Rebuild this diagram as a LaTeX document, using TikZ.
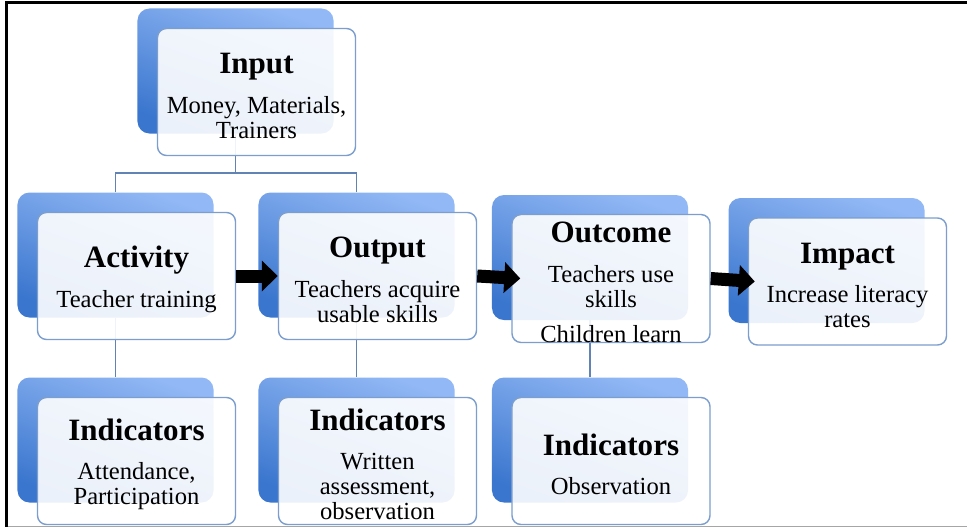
\documentclass[tikz,border=0pt]{standalone}
\usepackage{fontspec}
\setmainfont{Liberation Serif}
\usetikzlibrary{arrows.meta,backgrounds}

\definecolor{backtop}{RGB}{146,184,245}
\definecolor{backbot}{RGB}{58,118,206}
\definecolor{boxline}{RGB}{124,158,206}
\definecolor{linkc}{RGB}{96,130,180}

\newcommand{\hd}[1]{{\fontsize{26.5}{28}\selectfont\bfseries\rule{0pt}{24pt}#1}\\[12.75pt]}

\begin{document}
\begin{tikzpicture}[x=0.03cm,y=-0.03cm,
  back/.style={rounded corners=0.36cm,minimum width=5.88cm,minimum height=3.75cm,inner sep=0pt,
    top color=backtop,bottom color=backbot,shading angle=-20},
  front/.style={rounded corners=0.27cm,minimum width=5.94cm,minimum height=3.81cm,inner sep=0pt,
    draw=boxline,line width=1.2pt,fill=white,fill opacity=0.9,text opacity=1,align=center,
    font=\fontsize{21}{21.25}\selectfont},
  link/.style={draw=linkc,line width=1.3pt},
  blockarrow/.style={line width=0.39cm,-{Triangle[length=0.48cm,width=0.9cm]}}]

\useasboundingbox (0,0) rectangle (967,527);

% frame
\fill[black] (5,1) rectangle (967,3.5);
\fill[black] (5,1) rectangle (7.5,527);
\draw[black!35,line width=0.03cm] (7.5,526) -- (967,526);

\foreach \n/\x/\y in {inb/235.5/71,actb/115.5/255,outb/356.5/255,outcb/590/257.5,impb/826.5/260.5,
  ind1b/115.5/440,ind2b/356.5/440,ind3b/590/440}
	\node[back] (\n) at (\x,\y) {};

\begin{scope}[on background layer]
\coordinate (split) at (inb |- 0,173);
\draw[link] (inb) -- (split) -| (actb);
\draw[link] (split) -| (outb);
\draw[link] (actb) -- (ind1b);
\draw[link] (outb) -- (ind2b);
\draw[link] (outcb) -- (ind3b);
\end{scope}

\node[front] (in) at ([shift={(21,21)}]inb) {\hd{Input}Money, Materials,\\Trainers};
\node[front] (act) at ([shift={(21,21)}]actb) {\hd{Activity}Teacher training};
\node[front] (out) at ([shift={(21,21)}]outb) {\hd{Output}Teachers acquire\\usable skills};
\node[front] (outc) at ([shift={(21,21)}]outcb) {\hd{Outcome}Teachers use\\skills\\[8.5pt]Children learn};
\node[front] (imp) at ([shift={(21,21)}]impb) {\hd{Impact}Increase literacy\\rates};

\node[front] (ind1) at ([shift={(21,21)}]ind1b) {\hd{Indicators}Attendance,\\Participation};
\node[front] (ind2) at ([shift={(21,21)}]ind2b) {\hd{Indicators}Written\\assessment,\\observation};
\node[front] (ind3) at ([shift={(21,21)}]ind3b) {\hd{Indicators}Observation};

\draw[blockarrow] (act.east) -- (out.west);
\draw[blockarrow] (out.east) -- ([xshift=0.27cm]outc.west);
\draw[blockarrow] (outc.east) -- ([xshift=0.21cm]imp.west);

\end{tikzpicture}
\end{document}
